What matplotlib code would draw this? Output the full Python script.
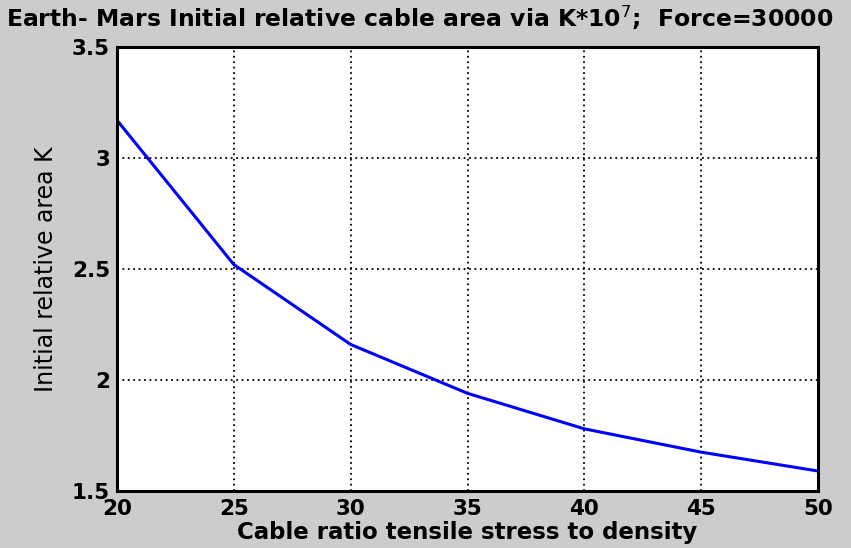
import numpy as np
import matplotlib
matplotlib.use("Agg")
import matplotlib.pyplot as plt

# data
ratio = [20, 25, 30, 35, 40, 45, 50]
area_k = [3.17, 2.52, 2.16, 1.94, 1.78, 1.675, 1.59]

x_ticks = [20, 25, 30, 35, 40, 45, 50]
y_ticks = [1.5, 2, 2.5, 3, 3.5]
y_tick_labels = ["1.5", "2", "2.5", "3", "3.5"]

plt.rcParams["font.family"] = ["DejaVu Sans"]

BG = (0.8, 0.8, 0.8)
W, H = 851, 548

fig = plt.figure(figsize=(W / 100, H / 100), dpi=100, facecolor=BG)
ax = fig.add_axes([117 / W, 1 - 491 / H, (818 - 117) / W, (491 - 47) / H])

ax.plot(ratio, area_k, color=(0, 0, 1), lw=2.2)

ax.set_xlim(20, 50)
ax.set_ylim(1.5, 3.5)
ax.set_xticks(x_ticks)
ax.set_yticks(y_ticks)
ax.set_yticklabels(y_tick_labels)
ax.grid(True, color="black", linestyle=(0, (1, 2)), lw=1.3)
ax.tick_params(direction="in", length=0, labelsize=15.5)
ax.tick_params(axis="x", pad=6)
ax.tick_params(axis="y", pad=5)
for lbl in ax.get_xticklabels() + ax.get_yticklabels():
    lbl.set_fontweight("bold")
for sp in ax.spines.values():
    sp.set_linewidth(2.2)
    sp.set_color("black")

ax.set_xlabel("Cable ratio tensile stress to density", fontsize=16.5,
              fontweight="bold", labelpad=1)
ax.set_ylabel("Initial relative area K", fontsize=17, labelpad=10)

fig.text(6 / W, 1 - 27 / H,
         "Earth- Mars Initial relative cable area via K*10$^7$;  Force=30000",
         fontsize=16.9, fontweight="bold", ha="left", va="baseline")

fig.savefig("out.png", dpi=100, facecolor=BG)
